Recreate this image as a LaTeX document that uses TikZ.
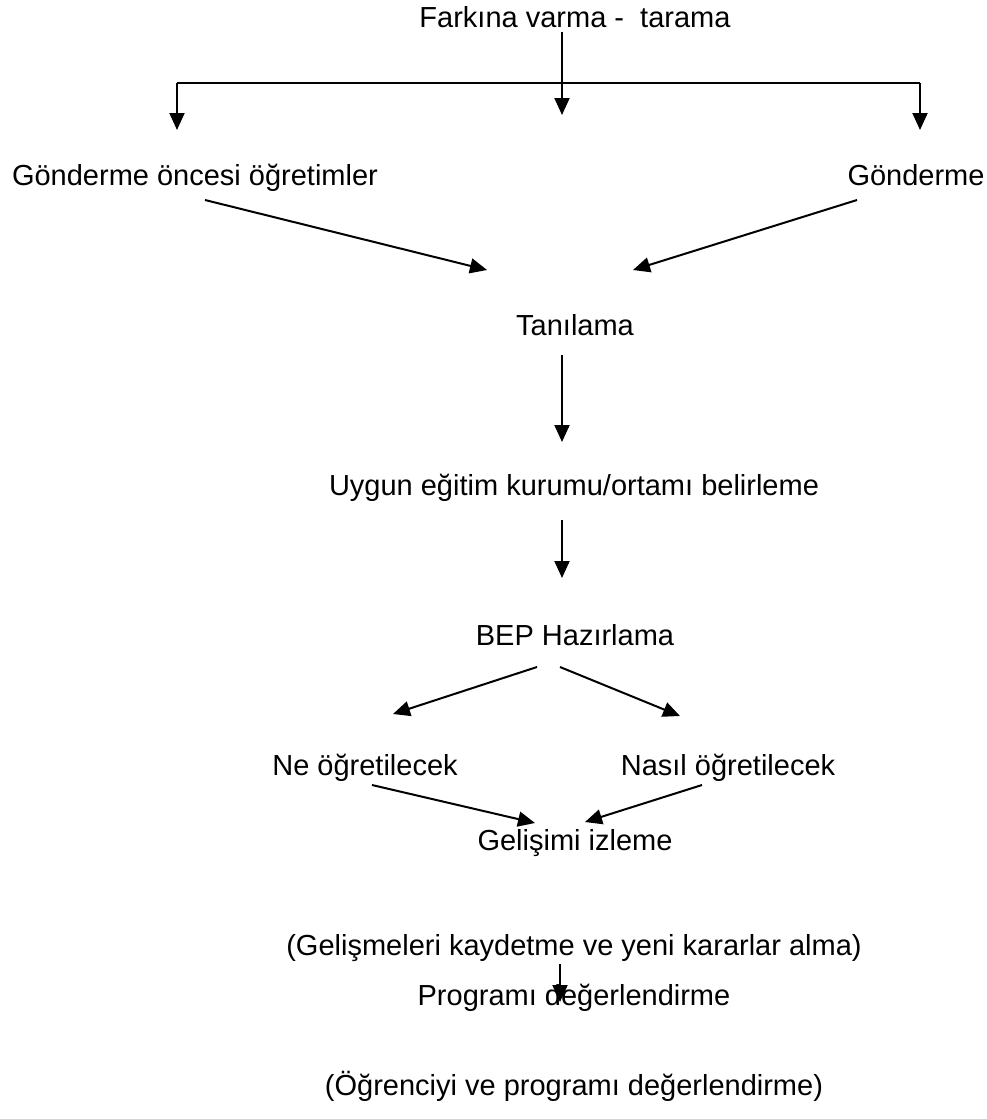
\documentclass[tikz,border=0pt]{standalone}
\usepackage{fontspec}
\setmainfont{Liberation Sans}
\usetikzlibrary{arrows.meta}
\begin{document}
\begin{tikzpicture}[x=1pt,y=-1pt,
  lbl/.style={inner sep=0pt, anchor=base, font=\fontsize{29}{34}\selectfont},
  arr/.style={line width=2pt, -{Triangle[length=17pt,width=15pt]}},
  ln/.style={line width=2pt}]
\useasboundingbox (0,0) rectangle (986,1119);
\fill[white] (0,0) rectangle (986,1119);
% texts
\node[lbl] (far) at (575,27) {Farkına varma -\ \ tarama};
\node[lbl] (gon1) at (195,185) {Gönderme öncesi öğretimler};
\node[lbl] (gon2) at (916,185) {Gönderme};
\node[lbl] (tan) at (575,335) {Tanılama};
\node[lbl] (uyg) at (574,495) {Uygun eğitim kurumu/ortamı belirleme};
\node[lbl] (bep) at (575,645) {BEP Hazırlama};
\node[lbl] (ne) at (365,775) {Ne öğretilecek};
\node[lbl] (nas) at (728,775) {Nasıl öğretilecek};
\node[lbl] (gel) at (575,850) {Gelişimi izleme};
\node[lbl] (gels) at (574,955) {(Gelişmeleri kaydetme ve yeni kararlar alma)};
\node[lbl] (prog) at (574,1005) {Programı değerlendirme};
\node[lbl] (ogr) at (574,1095) {(Öğrenciyi ve programı değerlendirme)};
% connector points
\coordinate (farB) at (562,32);
\coordinate (farT) at (562,115);
\coordinate (brL) at (177,83);
\coordinate (brR) at (920,83);
\coordinate (gon1T) at (177,130);
\coordinate (gon2T) at (920,130);
\coordinate (gon1B) at (205,200);
\coordinate (gon2B) at (857,200);
\coordinate (tanL) at (487,270);
\coordinate (tanR) at (633,270);
\coordinate (tanB) at (562,355);
\coordinate (uygT) at (562,442);
\coordinate (uygB) at (562,520);
\coordinate (bepT) at (562,578);
\coordinate (bepBL) at (537,667);
\coordinate (bepBR) at (560,667);
\coordinate (neT) at (393,714);
\coordinate (nasT) at (680,716);
\coordinate (neB) at (372,785);
\coordinate (nasB) at (702,785);
\coordinate (gelL) at (535,823);
\coordinate (gelR) at (585,822);
\coordinate (gelsB) at (560,964);
\coordinate (progT) at (560,1002);
% connectors
\draw[arr] (farB) -- (farT);
\draw[ln] (brL) -- (brR);
\draw[arr] (brL) -- (gon1T);
\draw[arr] (brR) -- (gon2T);
\draw[arr] (gon1B) -- (tanL);
\draw[arr] (gon2B) -- (tanR);
\draw[arr] (tanB) -- (uygT);
\draw[arr] (uygB) -- (bepT);
\draw[arr] (bepBL) -- (neT);
\draw[arr] (bepBR) -- (nasT);
\draw[arr] (neB) -- (gelL);
\draw[arr] (nasB) -- (gelR);
\draw[arr] (gelsB) -- (progT);
\end{tikzpicture}
\end{document}
